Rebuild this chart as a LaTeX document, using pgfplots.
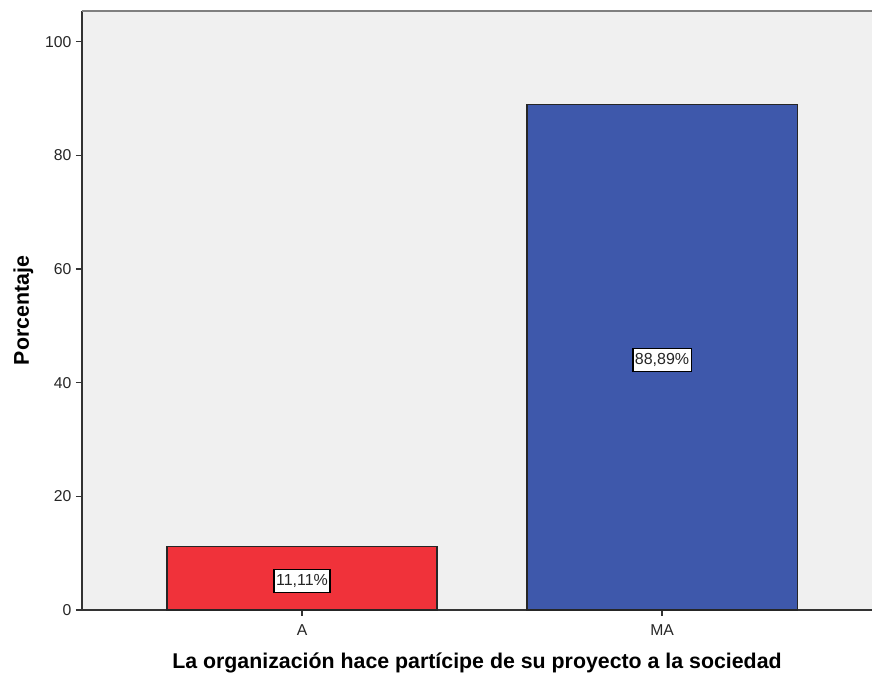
\documentclass[border=0pt]{standalone}
\usepackage{pgfplots}
\pgfplotsset{compat=1.18}
\usepackage{fontspec}
\setmainfont{Liberation Sans}
\definecolor{bg}{RGB}{240,240,240}
\definecolor{redbar}{RGB}{240,50,58}
\definecolor{bluebar}{RGB}{62,88,171}
\begin{document}
\begin{tikzpicture}
\begin{axis}[
  scale only axis,
  width=592.5pt, height=449.25pt,
  xmin=-0.611, xmax=1.583,
  ymin=0, ymax=105.4,
  axis x line*=bottom, axis y line*=left,
  axis line style={draw=black!80, line width=1.1pt},
  axis background/.style={fill=bg},
  xtick={0,1}, xticklabels={A,MA},
  ytick={0,20,40,60,80,100},
  tick align=outside,
  major tick length=4.5pt,
  tick style={draw=black!80, line width=0.9pt},
  /pgf/number format/assume math mode=true,
  ticklabel style={font=\fontsize{11.8pt}{13pt}\selectfont, text=black!85},
  xticklabel style={yshift=-3pt},
  ylabel={\textbf{Porcentaje}},
  xlabel={\textbf{La organización hace partícipe de su proyecto a la sociedad}},
  label style={font=\fontsize{16pt}{18pt}\selectfont},
  ylabel style={yshift=2pt},
  xlabel style={yshift=-6pt},
  clip=false,
]
\addplot[ybar, bar width=0.75, fill=redbar, draw=black!85, line width=0.9pt, bar shift=0pt] coordinates {(0,11.11)};
\addplot[ybar, bar width=0.75, fill=bluebar, draw=black!85, line width=0.9pt, bar shift=0pt] coordinates {(1,88.89)};
\addplot[only marks, mark=none, nodes near coords, point meta=explicit symbolic,
  nodes near coords align={center},
  nodes near coords style={draw=black, line width=0.9pt, fill=white, inner xsep=1.5pt, inner ysep=4pt, text height=0.75em, text depth=0.15em, yshift=-2pt, font=\fontsize{12pt}{14pt}\selectfont, text=black!85}]
  coordinates {(0,5.555)[11,11\%] (1,44.445)[88,89\%]};
\draw[black!50, line width=1.5pt] (rel axis cs:0,1) -- (rel axis cs:1,1);
\coordinate (bl) at (rel axis cs:0,0);
\coordinate (tr) at (rel axis cs:1,1);
\end{axis}
\pgfresetboundingbox
\path ([xshift=-61.5pt,yshift=-54pt]bl) rectangle ([yshift=8.25pt]tr);
\end{tikzpicture}
\end{document}
